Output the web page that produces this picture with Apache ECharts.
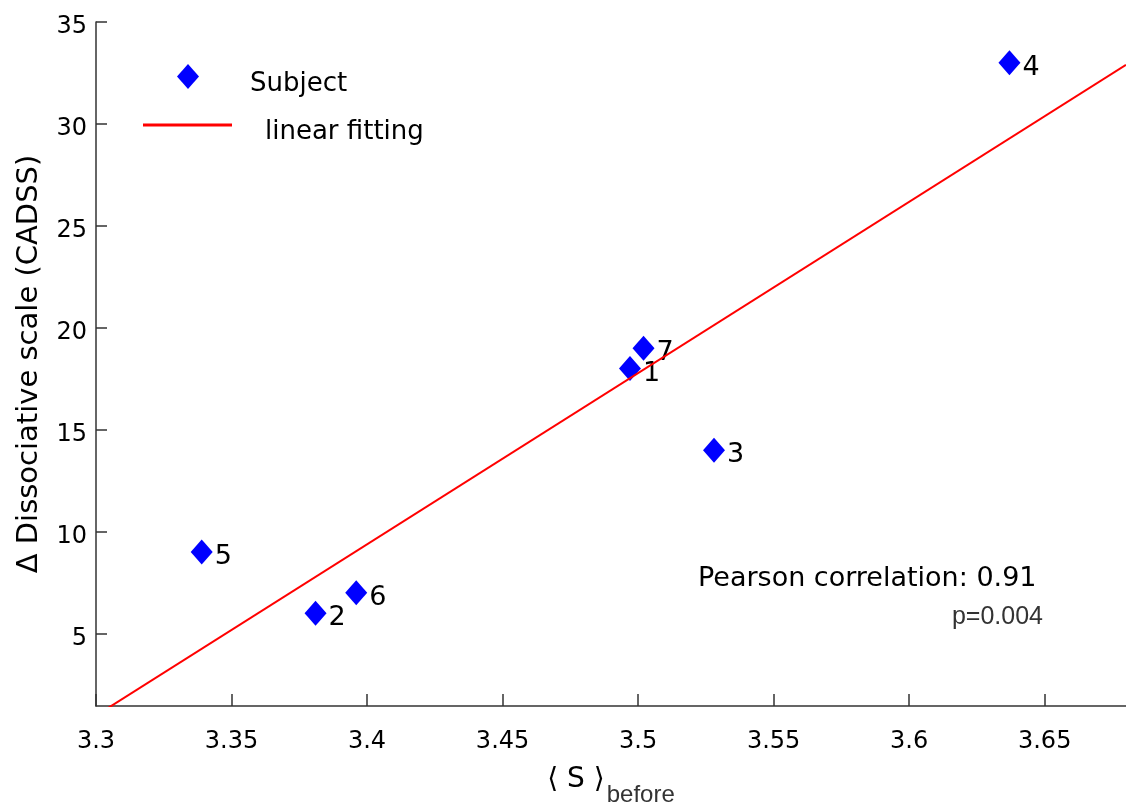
<!DOCTYPE html>
<html>
<head>
<meta charset="utf-8">
<script src="https://cdn.jsdelivr.net/npm/echarts@6/dist/echarts.min.js"></script>
<style>
  html, body { margin: 0; padding: 0; background: #fff; }
  #chart { width: 1126px; height: 812px; }
</style>
</head>
<body>
<div id="chart"></div>
<script>
// subjects: mean S before vs change in CADSS
const subjectIds = ['1', '2', '3', '4', '5', '6', '7']
const sBefore = [3.497, 3.381, 3.528, 3.637, 3.339, 3.396, 3.502]
const cadssDelta = [18, 6, 14, 33, 9, 7, 19]

// ends of the fitted line
const fitX = [3.3, 3.68]
const fitY = [0.98, 32.9]

const xTicks = [3.3, 3.35, 3.4, 3.45, 3.5, 3.55, 3.6, 3.65]
const yTicks = [5, 10, 15, 20, 25, 30, 35]

const FONT = 'DejaVu Sans'
const AXIS_COLOR = '#333'

const chart = echarts.init(document.getElementById('chart'))

const subjectData = sBefore.map((x, i) => ({
	value: [x, cadssDelta[i]],
	id: subjectIds[i]
}))
const fitData = fitX.map((x, i) => [x, fitY[i]])

const options = {
	backgroundColor: '#fff',
	animation: false,
	grid: { left: 96, right: 0, top: 22, bottom: 102 },
	legend: [
		{
			data: ['Subject'],
			left: 177,
			top: 64,
			padding: 0,
			icon: 'diamond',
			itemWidth: 22,
			itemHeight: 25,
			selectedMode: false,
			formatter: '{t|{name}}',
			textStyle: {
				rich: {
					t: { fontFamily: FONT, fontSize: 26, color: '#000', padding: [16, 0, 0, 46] }
				}
			}
		},
		{
			data: ['linear fitting'],
			left: 143,
			top: 119,
			padding: 0,
			icon: 'rect',
			itemWidth: 89,
			itemHeight: 3,
			selectedMode: false,
			formatter: '{t|{name}}',
			textStyle: {
				rich: {
					t: { fontFamily: FONT, fontSize: 26, color: '#000', padding: [14, 0, 0, 28] }
				}
			}
		}
	],
	xAxis: {
		type: 'value',
		min: 3.3,
		max: 3.68,
		name: '{a|⟨ S ⟩}{b|before}',
		nameLocation: 'middle',
		nameGap: 46,
		nameTextStyle: {
			rich: {
				a: { fontFamily: FONT, fontSize: 28, color: '#000' },
				b: { fontFamily: 'Liberation Sans', fontSize: 24, color: '#333', padding: [31, 0, 0, 2] }
			}
		},
		splitLine: { show: false },
		axisLine: { lineStyle: { color: AXIS_COLOR, width: 1.5 } },
		axisTick: {
			inside: true,
			length: 12,
			customValues: xTicks,
			lineStyle: { color: AXIS_COLOR, width: 1.5 }
		},
		axisLabel: {
			customValues: xTicks,
			margin: 24,
			fontFamily: FONT,
			fontSize: 24,
			color: '#000',
			formatter: v => String(v)
		}
	},
	yAxis: {
		type: 'value',
		min: 1.45,
		max: 35,
		name: 'Δ Dissociative scale (CADSS)',
		nameLocation: 'middle',
		nameRotate: 90,
		nameGap: 52,
		nameTextStyle: { fontFamily: FONT, fontSize: 29, color: '#000' },
		splitLine: { show: false },
		axisLine: { show: true, lineStyle: { color: AXIS_COLOR, width: 1.5 } },
		axisTick: {
			show: true,
			inside: true,
			length: 11,
			customValues: yTicks,
			lineStyle: { color: AXIS_COLOR, width: 1.5 }
		},
		axisLabel: {
			customValues: yTicks,
			margin: 9,
			formatter: '{v|{value}}',
			rich: {
				v: { fontFamily: FONT, fontSize: 24, color: '#000', padding: [10, 0, 0, 0] }
			}
		}
	},
	series: [
		{
			name: 'Subject',
			type: 'scatter',
			symbol: 'diamond',
			symbolSize: [22, 25],
			itemStyle: { color: '#0000ff', opacity: 1 },
			label: {
				show: true,
				position: 'right',
				distance: 2,
				offset: [0, 5],
				formatter: p => p.data.id,
				fontFamily: FONT,
				fontSize: 27,
				color: '#000'
			},
			data: subjectData,
			z: 2
		},
		{
			name: 'linear fitting',
			type: 'line',
			showSymbol: false,
			clip: true,
			lineStyle: { color: '#ff0000', width: 2 },
			itemStyle: { color: '#ff0000' },
			data: fitData,
			z: 3
		}
	],
	graphic: [
		{
			type: 'text',
			left: 698,
			top: 565,
			style: { text: 'Pearson correlation: 0.91', fontFamily: FONT, fontSize: 27, fill: '#000' }
		},
		{
			type: 'text',
			right: 83,
			top: 605,
			style: { text: 'p=0.004', fontFamily: 'Liberation Sans', fontSize: 25, fill: '#333' }
		}
	]
}

chart.setOption(options)
</script>
</body>
</html>
